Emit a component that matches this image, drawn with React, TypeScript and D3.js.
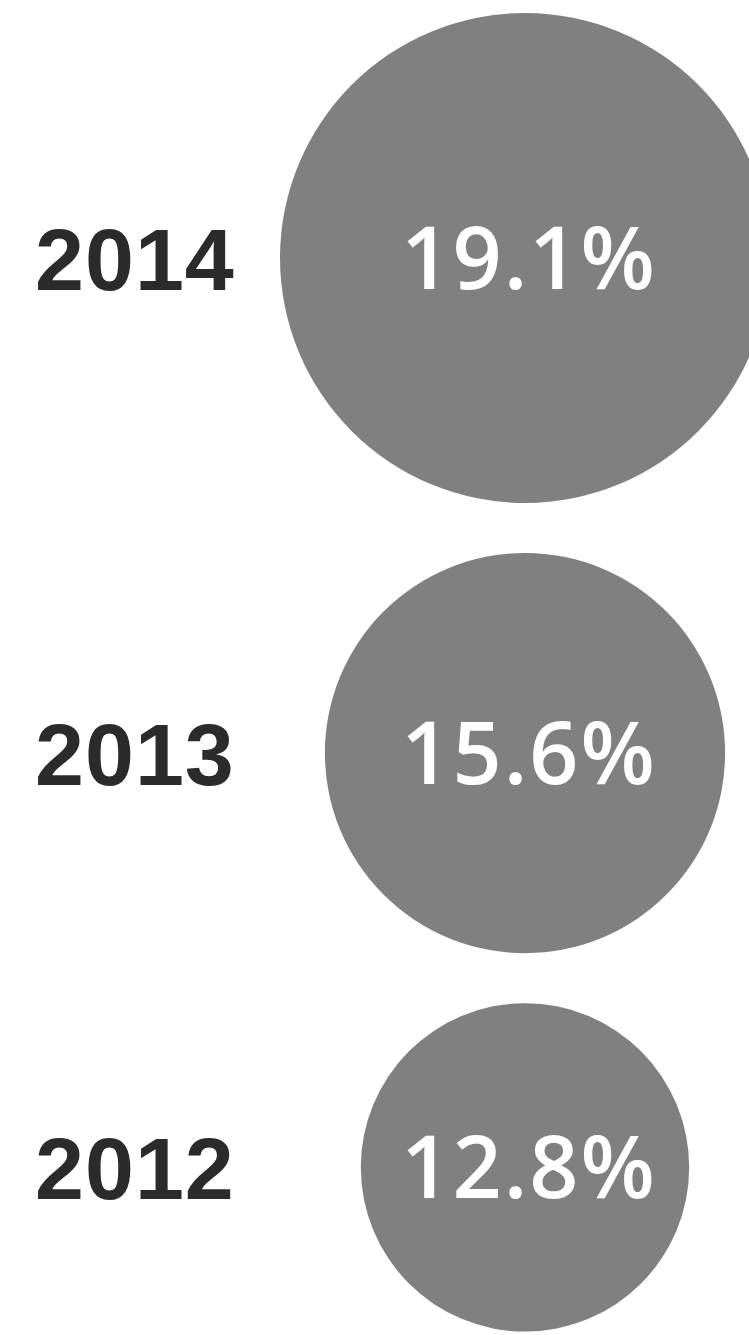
import React from "react";
import * as d3 from "d3";

const years: string[] = ["2014", "2013", "2012"];
const values: number[] = [19.1, 15.6, 12.8];
const valueLabels: string[] = ["19.1%", "15.6%", "12.8%"];

const WIDTH = 749;
const HEIGHT = 1335;
const TOP = 13;
const GAP = 50;
const CX = 525;

export default function App() {
  const r = d3.scaleLinear().domain([0, d3.max(values) as number]).range([0, 245]);

  // stack circles vertically with a constant gap
  let cursor = TOP;
  const items = years.map((y, i) => {
    const rad = r(values[i]);
    const cy = cursor + rad;
    cursor = cy + rad + GAP;
    return { year: y, value: values[i], label: valueLabels[i], rad, cy };
  });

  return (
    <svg
      width={WIDTH}
      height={HEIGHT}
      style={{ position: "absolute", left: 0, top: 0, display: "block", background: "#ffffff" }}
    >
      {items.map((d) => (
        <g key={d.year}>
          <circle cx={CX} cy={d.cy} r={d.rad} fill="#808080" />
          <text
            x={35}
            y={d.cy}
            dy="0.36em"
            fill="#2b2b2b"
            fontFamily="'Liberation Sans', Arial, sans-serif"
            fontWeight={700}
            fontSize={88}
            letterSpacing={1}
          >
            {d.year}
          </text>
          <text
            x={CX + 4}
            y={d.cy}
            dy="0.36em"
            textAnchor="middle"
            fill="#ffffff"
            fontFamily="'Open Sans', sans-serif"
            fontWeight={600}
            fontSize={86}
            letterSpacing={2}
          >
            {d.label}
          </text>
        </g>
      ))}
    </svg>
  );
}
